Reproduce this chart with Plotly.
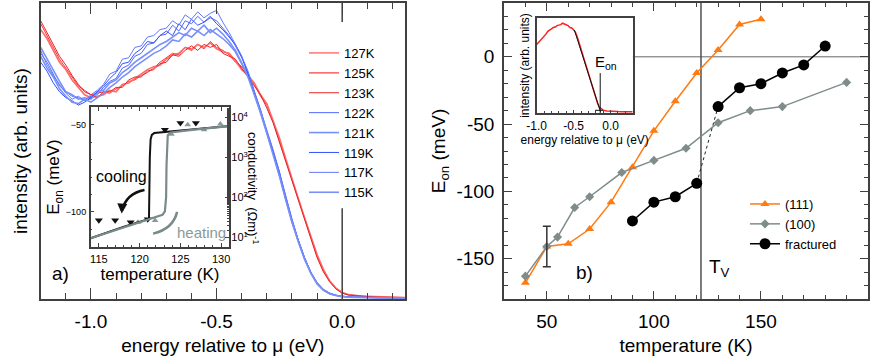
import plotly.graph_objects as go

W, H = 872, 364
FONT = "Arial, Liberation Sans, sans-serif"

# ---- panel a): photoemission spectra (arb. units) ----
energy = [-1.2, -1.175, -1.15, -1.125, -1.1, -1.075, -1.05, -1.025, -1.0, -0.975,
          -0.95, -0.925, -0.9, -0.875, -0.85, -0.825, -0.8, -0.775, -0.75, -0.725,
          -0.7, -0.675, -0.65, -0.625, -0.6, -0.575, -0.55, -0.525, -0.5, -0.475,
          -0.45, -0.425, -0.4, -0.375, -0.35, -0.325, -0.3, -0.275, -0.25, -0.225,
          -0.2, -0.175, -0.15, -0.125, -0.1, -0.075, -0.05, -0.025, 0.0, 0.025,
          0.05, 0.075, 0.1, 0.125, 0.15, 0.175, 0.2, 0.225, 0.25]

i127 = [0.93, 0.89, 0.85, 0.81, 0.78, 0.75, 0.72, 0.705, 0.69, 0.695,
        0.70, 0.695, 0.71, 0.72, 0.735, 0.74, 0.755, 0.765, 0.78, 0.80,
        0.815, 0.83, 0.825, 0.85, 0.845, 0.86, 0.845, 0.87, 0.85, 0.84,
        0.825, 0.80, 0.785, 0.76, 0.725, 0.685, 0.655, 0.60, 0.535, 0.47,
        0.40, 0.335, 0.27, 0.205, 0.145, 0.095, 0.06, 0.035, 0.02, 0.014,
        0.011, 0.01, 0.008, 0.007, 0.007, 0.006, 0.006, 0.005, 0.005]
i125 = [0.91, 0.88, 0.84, 0.80, 0.775, 0.74, 0.715, 0.69, 0.68, 0.685,
        0.69, 0.705, 0.70, 0.725, 0.73, 0.745, 0.76, 0.775, 0.785, 0.79,
        0.81, 0.825, 0.83, 0.85, 0.84, 0.86, 0.85, 0.865, 0.845, 0.835,
        0.83, 0.805, 0.775, 0.755, 0.73, 0.69, 0.66, 0.605, 0.545, 0.475,
        0.405, 0.34, 0.275, 0.21, 0.15, 0.10, 0.062, 0.037, 0.022, 0.015,
        0.012, 0.01, 0.009, 0.008, 0.007, 0.006, 0.006, 0.006, 0.005]
i123 = [0.94, 0.90, 0.86, 0.82, 0.79, 0.755, 0.725, 0.70, 0.69, 0.68,
        0.70, 0.70, 0.715, 0.715, 0.74, 0.75, 0.75, 0.77, 0.775, 0.795,
        0.80, 0.825, 0.82, 0.84, 0.855, 0.84, 0.86, 0.85, 0.86, 0.83,
        0.82, 0.81, 0.78, 0.75, 0.72, 0.69, 0.645, 0.595, 0.53, 0.465,
        0.395, 0.33, 0.265, 0.20, 0.14, 0.092, 0.058, 0.034, 0.02, 0.013,
        0.011, 0.009, 0.008, 0.007, 0.006, 0.006, 0.005, 0.005, 0.005]
i122 = [0.83, 0.80, 0.76, 0.72, 0.70, 0.685, 0.68, 0.67, 0.685, 0.69,
        0.715, 0.735, 0.745, 0.78, 0.79, 0.82, 0.83, 0.86, 0.865, 0.89,
        0.895, 0.925, 0.905, 0.94, 0.93, 0.955, 0.935, 0.95, 0.94, 0.915,
        0.89, 0.855, 0.815, 0.765, 0.70, 0.635, 0.57, 0.50, 0.425, 0.345,
        0.27, 0.20, 0.14, 0.09, 0.055, 0.032, 0.02, 0.013, 0.009, 0.007,
        0.006, 0.006, 0.005, 0.005, 0.005, 0.004, 0.005, 0.004, 0.004]
i121 = [0.85, 0.81, 0.77, 0.735, 0.70, 0.69, 0.675, 0.68, 0.675, 0.70,
        0.705, 0.73, 0.74, 0.765, 0.78, 0.80, 0.815, 0.83, 0.845, 0.86,
        0.87, 0.885, 0.90, 0.89, 0.915, 0.905, 0.925, 0.90, 0.915, 0.895,
        0.87, 0.84, 0.80, 0.755, 0.695, 0.63, 0.565, 0.495, 0.42, 0.335,
        0.26, 0.195, 0.135, 0.088, 0.052, 0.03, 0.018, 0.012, 0.008, 0.007,
        0.006, 0.005, 0.005, 0.005, 0.004, 0.004, 0.004, 0.004, 0.004]
i119 = [0.80, 0.77, 0.73, 0.70, 0.68, 0.67, 0.655, 0.665, 0.68, 0.70,
        0.72, 0.745, 0.765, 0.795, 0.80, 0.83, 0.845, 0.87, 0.865, 0.89,
        0.905, 0.89, 0.93, 0.91, 0.945, 0.925, 0.935, 0.955, 0.93, 0.91,
        0.885, 0.86, 0.82, 0.76, 0.70, 0.64, 0.565, 0.50, 0.43, 0.34,
        0.265, 0.20, 0.14, 0.09, 0.053, 0.031, 0.019, 0.012, 0.008, 0.006,
        0.006, 0.005, 0.005, 0.004, 0.004, 0.004, 0.004, 0.004, 0.003]
i117 = [0.84, 0.79, 0.755, 0.725, 0.695, 0.675, 0.685, 0.67, 0.69, 0.705,
        0.725, 0.76, 0.77, 0.81, 0.815, 0.85, 0.855, 0.885, 0.89, 0.91,
        0.915, 0.94, 0.925, 0.96, 0.945, 0.97, 0.95, 0.965, 0.975, 0.935,
        0.90, 0.86, 0.82, 0.77, 0.705, 0.64, 0.57, 0.505, 0.43, 0.345,
        0.27, 0.20, 0.14, 0.092, 0.056, 0.033, 0.02, 0.013, 0.009, 0.007,
        0.006, 0.006, 0.005, 0.005, 0.004, 0.005, 0.004, 0.004, 0.004]
i115 = [0.82, 0.78, 0.75, 0.71, 0.685, 0.665, 0.66, 0.675, 0.665, 0.68,
        0.695, 0.715, 0.73, 0.75, 0.765, 0.785, 0.80, 0.815, 0.83, 0.84,
        0.855, 0.875, 0.87, 0.895, 0.885, 0.905, 0.89, 0.91, 0.895, 0.88,
        0.86, 0.835, 0.795, 0.75, 0.69, 0.63, 0.56, 0.49, 0.415, 0.335,
        0.26, 0.195, 0.135, 0.087, 0.051, 0.03, 0.018, 0.012, 0.008, 0.006,
        0.005, 0.005, 0.005, 0.004, 0.004, 0.004, 0.004, 0.003, 0.003]

spec_names = ["127K", "125K", "123K", "122K", "121K", "119K", "117K", "115K"]
spec_values = [i127, i125, i123, i122, i121, i119, i117, i115]
spec_colors = ["#ff3030", "#ff6a6a", "#e82424", "#5068ff", "#7890ff", "#3050ff", "#6078ff", "#7890f8"]
spec_widths = [1, 1.6, 1, 1, 1.6, 1, 1, 1.6]

energy_ticks = [-1.0, -0.5, 0.0]
energy_ticktext = ["-1.0", "-0.5", "0.0"]

# ---- inset of a): onset energy and conductivity vs temperature ----
cool_t = [115.0, 117.0, 118.9, 121.0, 123.1, 125.0, 126.9]
cool_eon = [-104.8, -104.8, -106.0, -104.2, -52.9, -49.0, -49.0]
heat_t = [119.8, 121.9, 123.9, 125.9, 127.9, 129.9]
heat_eon = [-106.0, -105.0, -55.4, -50.0, -52.9, -49.6]

cond_cool_t = [131.0, 127.0, 123.0, 122.3, 121.8, 121.5, 121.35, 121.25, 121.2, 121.15, 118.0, 114.0]
cond_cool = [6026, 5129, 4365, 4266, 4074, 3631, 2818, 1000, 100, 28.8, 18.2, 9.5]
cond_heat_t = [114.0, 117.0, 120.0, 122.0, 122.8, 123.1, 123.25, 123.3, 123.35, 123.45, 123.8, 127.0, 131.0]
cond_heat = [9.5, 15.1, 24.0, 31.6, 36.3, 44.7, 100, 631, 1995, 3548, 4169, 5012, 6026]

cond_ticks = [10, 100, 1000, 10000]
cond_ticktext = ["10<sup>1</sup>", "10<sup>2</sup>", "10<sup>3</sup>", "10<sup>4</sup>"]

# ---- panel b): onset energy vs temperature ----
t111 = [40, 50, 60, 70, 80, 90, 100, 110, 120, 130, 140, 150]
e111 = [-168, -141, -139, -128, -108, -82, -55, -33, -12, 5, 24, 28]
t100 = [40, 50, 55, 63, 70, 85, 100, 115, 130, 145, 160, 190]
e100 = [-163, -141, -134, -112, -104, -86, -77, -68, -49, -40, -37, -19]
tfrac_low = [90, 100, 110, 120]
efrac_low = [-122, -108, -104, -94]
tfrac_high = [130, 140, 150, 160, 170, 180]
efrac_high = [-37, -23, -20, -12, -6, 8]
err_t = [50]
err_e = [-141]
err_size = [15]
t_verwey = 122

eon_ticks = [-150, -100, -50, 0]
eon_ticktext = ["-150", "-100", "-50", "0"]

# ---- inset of b): single spectrum with linear edge fit ----
ins_e = [-1.0, -0.975, -0.95, -0.925, -0.9, -0.875, -0.85, -0.825, -0.8, -0.775,
         -0.75, -0.725, -0.7, -0.675, -0.65, -0.625, -0.6, -0.575, -0.55, -0.525,
         -0.5, -0.475, -0.45, -0.4, -0.35, -0.3, -0.25, -0.2, -0.175, -0.15,
         -0.125, -0.1, -0.05, 0.0, 0.05, 0.1, 0.15, 0.2, 0.25, 0.3]
ins_i = [0.72, 0.74, 0.77, 0.79, 0.80, 0.83, 0.86, 0.87, 0.885, 0.90,
         0.905, 0.92, 0.925, 0.93, 0.945, 0.935, 0.925, 0.92, 0.90, 0.895,
         0.875, 0.85, 0.80, 0.67, 0.545, 0.42, 0.29, 0.16, 0.10, 0.06,
         0.04, 0.03, 0.022, 0.018, 0.016, 0.015, 0.014, 0.014, 0.013, 0.013]
fit_e = [-0.49, -0.136]
fit_i = [0.874, 0.013]
e_on = -0.14


def dom_x(p0, p1):
    return [p0 / W, p1 / W]


def dom_y(top, bottom):
    return [1 - bottom / H, 1 - top / H]


fig = go.Figure()

# panel a) spectra
for name, vals, color, width in zip(spec_names, spec_values, spec_colors, spec_widths):
    fig.add_trace(go.Scatter(
        x=energy, y=vals, mode='lines', name=name,
        line=dict(color=color, width=width),
        xaxis='x', yaxis='y', legend='legend'
    ))

# inset a): onset energies
fig.add_trace(go.Scatter(
    x=cool_t, y=cool_eon, mode='markers', showlegend=False,
    marker=dict(symbol='triangle-down', size=7, color='#111111'),
    xaxis='x2', yaxis='y2'
))
fig.add_trace(go.Scatter(
    x=heat_t, y=heat_eon, mode='markers', showlegend=False,
    marker=dict(symbol='triangle-up', size=6, color='#8a9a9a'),
    xaxis='x2', yaxis='y2'
))
# inset a): conductivity (log axis on the right)
fig.add_trace(go.Scatter(
    x=cond_cool_t, y=cond_cool, mode='lines', showlegend=False,
    line=dict(color='#111111', width=2),
    xaxis='x2', yaxis='y3'
))
fig.add_trace(go.Scatter(
    x=cond_heat_t, y=cond_heat, mode='lines', showlegend=False,
    line=dict(color='#7a8a8a', width=2.2),
    xaxis='x2', yaxis='y3'
))

# panel b)
fig.add_trace(go.Scatter(
    x=t111, y=e111, mode='lines+markers', name='(111)',
    line=dict(color='#ff7a10', width=1.5),
    marker=dict(symbol='triangle-up', size=8, color='#ff7a10'),
    xaxis='x3', yaxis='y4', legend='legend2'
))
fig.add_trace(go.Scatter(
    x=t100, y=e100, mode='lines+markers', name='(100)',
    line=dict(color='#7f8c8c', width=1.5),
    marker=dict(symbol='diamond', size=7, color='#7f8c8c'),
    xaxis='x3', yaxis='y4', legend='legend2'
))
fig.add_trace(go.Scatter(
    x=[tfrac_low[-1], tfrac_high[0]], y=[efrac_low[-1], efrac_high[0]],
    mode='lines', showlegend=False,
    line=dict(color='#222222', width=1, dash='dot'),
    xaxis='x3', yaxis='y4'
))
fig.add_trace(go.Scatter(
    x=tfrac_low, y=efrac_low, mode='lines+markers', name='fractured',
    line=dict(color='black', width=1.5),
    marker=dict(symbol='circle', size=11, color='black'),
    xaxis='x3', yaxis='y4', legend='legend2'
))
fig.add_trace(go.Scatter(
    x=tfrac_high, y=efrac_high, mode='lines+markers', showlegend=False,
    line=dict(color='black', width=1.5),
    marker=dict(symbol='circle', size=11, color='black'),
    xaxis='x3', yaxis='y4'
))
fig.add_trace(go.Scatter(
    x=err_t, y=err_e, mode='markers', showlegend=False,
    marker=dict(size=1, opacity=0),
    error_y=dict(type='data', array=err_size, color='#333333', thickness=1.5, width=4),
    xaxis='x3', yaxis='y4'
))

# inset b)
fig.add_trace(go.Scatter(
    x=ins_e, y=ins_i, mode='lines', showlegend=False,
    line=dict(color='#ff2020', width=1.5),
    xaxis='x4', yaxis='y5'
))
fig.add_trace(go.Scatter(
    x=fit_e, y=fit_i, mode='lines', showlegend=False,
    line=dict(color='#111111', width=1),
    xaxis='x4', yaxis='y5'
))

frame = dict(showline=True, linecolor='#404040', linewidth=1.5, showgrid=False,
             zeroline=False, ticks='inside', tickcolor='#404040')

fig.update_layout(
    width=W, height=H,
    margin=dict(l=0, r=0, t=0, b=0),
    paper_bgcolor='white', plot_bgcolor='white',
    font=dict(family=FONT, size=19, color='black'),
    # panel a)
    xaxis=dict(frame, domain=dom_x(40.7, 405), anchor='y', range=[-1.2, 0.25],
               tickvals=energy_ticks, ticktext=energy_ticktext, ticklen=11,
               minor=dict(dtick=0.1, ticks='inside', ticklen=6, tickcolor='#404040'),
               mirror='ticks', ticklabelstandoff=4,
               title=dict(text='energy relative to μ (eV)', font=dict(size=19), standoff=8),
               automargin=False),
    yaxis=dict(frame, domain=dom_y(3, 299), anchor='x', range=[0, 1],
               ticks='', showticklabels=False, mirror=True,
               title=dict(text='intensity (arb. units)', font=dict(size=19), standoff=6),
               automargin=False),
    # inset a)
    xaxis2=dict(frame, domain=dom_x(90.7, 229.3), anchor='y2', range=[114, 131],
                tick0=115, dtick=5, ticklen=4, mirror='ticks',
                minor=dict(dtick=1, ticks='inside', ticklen=2, tickcolor='#404040'),
                tickfont=dict(size=11), ticklabelstandoff=1,
                title=dict(text='temperature (K)', font=dict(size=17), standoff=4),
                automargin=False),
    yaxis2=dict(frame, domain=dom_y(107.3, 246.7), anchor='x2', range=[-120, -40],
                dtick=50, tick0=0, ticklen=4, mirror=True,
                minor=dict(dtick=10, ticks='inside', ticklen=2, tickcolor='#404040'),
                tickfont=dict(size=9), ticklabelstandoff=1,
                title=dict(text='E<sub>on</sub> (meV)', font=dict(size=17), standoff=1),
                automargin=False),
    yaxis3=dict(type='log', overlaying='y2', side='right', anchor='x2',
                range=[0.765, 4.25], showline=False, showgrid=False, zeroline=False,
                tickvals=cond_ticks, ticktext=cond_ticktext, ticks='inside', ticklen=4,
                tickcolor='#404040', tickfont=dict(size=11), ticklabelstandoff=1,
                minor=dict(ticks='inside', ticklen=2, tickcolor='#404040', showgrid=False),
                automargin=False),
    # panel b)
    xaxis3=dict(frame, domain=dom_x(504, 868), anchor='y4', range=[30, 200],
                dtick=50, tick0=0, ticklen=8, mirror='ticks',
                minor=dict(dtick=10, ticks='inside', ticklen=4, tickcolor='#404040'),
                ticklabelstandoff=4,
                title=dict(text='temperature (K)', font=dict(size=19), standoff=8),
                automargin=False),
    yaxis4=dict(frame, domain=dom_y(3, 299), anchor='x3', range=[-180, 40],
                tickvals=eon_ticks, ticktext=eon_ticktext, ticklen=8, mirror='ticks',
                minor=dict(dtick=10, ticks='inside', ticklen=4, tickcolor='#404040'),
                ticklabelstandoff=4,
                title=dict(text='E<sub>on</sub> (meV)', font=dict(size=19), standoff=6),
                automargin=False),
    # inset b)
    xaxis4=dict(frame, domain=dom_x(536.7, 632.7), anchor='y5', range=[-1.0, 0.3],
                tickvals=energy_ticks, ticktext=energy_ticktext, ticklen=3, mirror=True,
                minor=dict(dtick=0.1, ticks='inside', ticklen=2, tickcolor='#404040'),
                tickfont=dict(size=12), ticklabelstandoff=1,
                title=dict(text='energy relative to μ (eV)', font=dict(size=12), standoff=2),
                automargin=False),
    yaxis5=dict(frame, domain=dom_y(18, 113), anchor='x4', range=[0, 1],
                ticks='', showticklabels=False, mirror=True,
                title=dict(text='intensity (arb. units)', font=dict(size=12), standoff=3),
                automargin=False),
    legend=dict(x=304 / W, y=1 - 38 / H, xanchor='left', yanchor='top',
                bgcolor='rgba(0,0,0,0)', font=dict(size=13), itemwidth=30),
    legend2=dict(x=745 / W, y=1 - 189 / H, xanchor='left', yanchor='top',
                 bgcolor='rgba(0,0,0,0)', font=dict(size=13), itemwidth=30),
)

line_dark = dict(color='#404040', width=1.5)
fig.add_shape(type='line', xref='x', yref='y', x0=0, x1=0, y0=0, y1=0.307, line=line_dark, layer='below')
fig.add_shape(type='line', xref='x', yref='y', x0=0, x1=0, y0=0.936, y1=1, line=line_dark, layer='below')
fig.add_shape(type='line', xref='x3', yref='y4', x0=90, x1=200, y0=0, y1=0,
              line=dict(color='#666666', width=1), layer='below')
fig.add_shape(type='line', xref='x3', yref='y4', x0=t_verwey, x1=t_verwey, y0=-180, y1=40,
              line=dict(color='#505050', width=1.5), layer='below')
fig.add_shape(type='line', xref='x4', yref='y5', x0=e_on, x1=e_on, y0=0, y1=0.42,
              line=dict(color='#111111', width=1))
fig.add_shape(type='line', xref='x4', yref='y5', x0=e_on - 0.07, x1=e_on + 0.04, y0=0.028, y1=0.028,
              line=dict(color='#111111', width=1))

# curved cooling / heating arrows in the inset
fig.add_shape(type='path', xref='x2', yref='y2',
              path='M 120.6,-87.5 Q 118.4,-89.4 117.85,-99',
              line=dict(color='#111111', width=2.5))
fig.add_shape(type='path', xref='x2', yref='y2',
              path='M 121.65,-112.5 Q 124.1,-109.8 124.6,-100',
              line=dict(color='#7a8a8a', width=2.5))
fig.add_annotation(x=117.8, y=-101, xref='x2', yref='y2', ax=0.3, ay=-5, axref='pixel',
                   showarrow=True, arrowhead=2, arrowsize=0.8, arrowwidth=2.5,
                   arrowcolor='#111111', text='', standoff=0)


def label(text, px, py, size, color='black', angle=0):
    fig.add_annotation(x=px / W, y=1 - py / H, xref='paper', yref='paper', text=text,
                       showarrow=False, font=dict(size=size, color=color, family=FONT),
                       xanchor='center', yanchor='middle', textangle=angle)


label('a)', 60, 273, 19)
label('cooling', 121, 176, 16)
label('heating', 201, 233, 15, color='#8a9a9a')
label('conductivity  (Ωm)<sup>-1</sup>', 253, 188, 13, angle=90)
label('b)', 584, 272, 19)
label('T<sub>V</sub>', 719, 268, 19)
label('E<sub>on</sub>', 606, 62, 15)

fig.write_html("out.html", config={'displayModeBar': False},
               post_script="document.body.style.margin = '0px';")
